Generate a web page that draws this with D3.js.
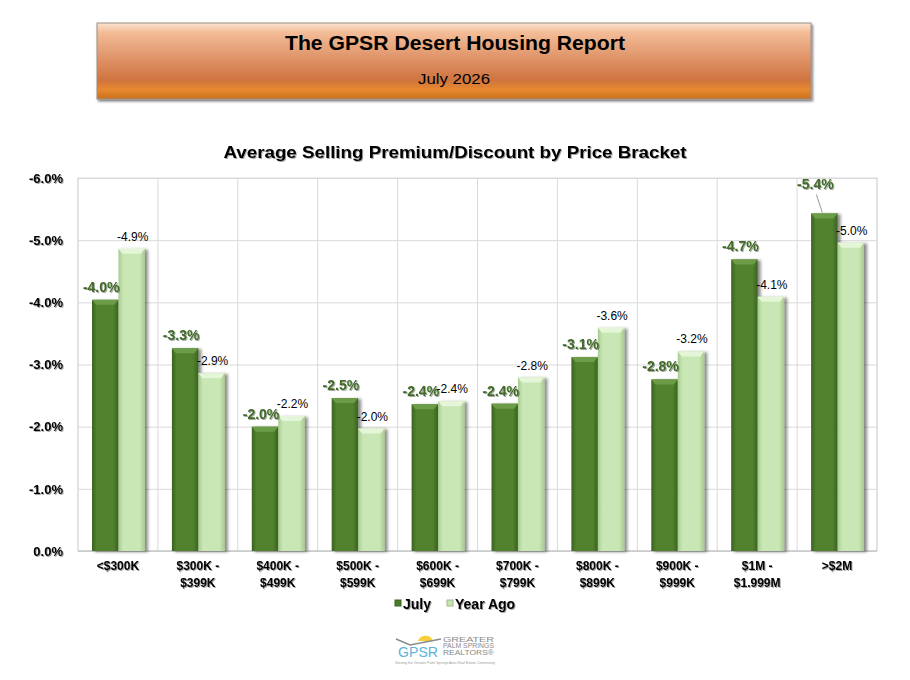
<!DOCTYPE html>
<html>
<head>
<meta charset="utf-8">
<script src="https://cdn.jsdelivr.net/npm/d3@7"></script>
<style>
  body { margin: 0; background: #fff; }
  text { font-family: Arial, "Liberation Sans", sans-serif; }
</style>
</head>
<body>
<div id="chart"></div>
<script>
// Average selling premium/discount by price bracket
const categories = [
  ["<$300K"], ["$300K -", "$399K"], ["$400K -", "$499K"], ["$500K -", "$599K"],
  ["$600K -", "$699K"], ["$700K -", "$799K"], ["$800K -", "$899K"],
  ["$900K -", "$999K"], ["$1M -", "$1.999M"], [">$2M"]
];
const julyValues    = [-4.04, -3.26, -2.00, -2.46, -2.36, -2.37, -3.12, -2.76, -4.69, -5.43];
const yearAgoValues = [-4.86, -2.86, -2.17, -1.97, -2.41, -2.79, -3.59, -3.21, -4.09, -4.96];
const seriesNames = ["July", "Year Ago"];
const yTicks = [0, -1, -2, -3, -4, -5, -6];

const width = 910, height = 680;
const plot = { left: 78, right: 877, top: 178, bottom: 551 };

const svg = d3.select("#chart").append("svg")
  .attr("width", width)
  .attr("height", height);

const defs = svg.append("defs");

// Header gradient
const hg = defs.append("linearGradient").attr("id", "hdr").attr("x1", 0).attr("y1", 0).attr("x2", 0).attr("y2", 1);
[[0, "#fbe3d0"], [0.12, "#f3bd98"], [0.45, "#e0956a"], [0.75, "#cf7440"], [0.88, "#e7892e"], [1, "#c8701f"]]
  .forEach(([o, c]) => hg.append("stop").attr("offset", o).attr("stop-color", c));

// Bar gradients (horizontal shading for the bevelled look)
function barGradient(id, edge, mid) {
  const g = defs.append("linearGradient").attr("id", id).attr("x1", 0).attr("y1", 0).attr("x2", 1).attr("y2", 0);
  [[0, edge], [0.18, mid], [0.8, mid], [1, edge]]
    .forEach(([o, c]) => g.append("stop").attr("offset", o).attr("stop-color", c));
}
barGradient("gJuly", "#3b6220", "#52822f");
barGradient("gYear", "#a7cb8e", "#c9e7b5");

const shadow = defs.append("filter").attr("id", "barShadow").attr("x", "-30%").attr("y", "-10%").attr("width", "170%").attr("height", "120%");
shadow.append("feDropShadow").attr("dx", 3).attr("dy", 1).attr("stdDeviation", 1.8).attr("flood-color", "#000").attr("flood-opacity", 0.45);

const txtShadow = defs.append("filter").attr("id", "txtShadow").attr("x", "-10%").attr("y", "-20%").attr("width", "130%").attr("height", "150%");
txtShadow.append("feDropShadow").attr("dx", 1).attr("dy", 1).attr("stdDeviation", 0.6).attr("flood-color", "#000").attr("flood-opacity", 0.35);

const boxShadow = defs.append("filter").attr("id", "boxShadow").attr("x", "-5%").attr("y", "-20%").attr("width", "110%").attr("height", "150%");
boxShadow.append("feDropShadow").attr("dx", 1.5).attr("dy", 2).attr("stdDeviation", 1.2).attr("flood-color", "#000").attr("flood-opacity", 0.5);

// Header box
svg.append("rect")
  .attr("x", 97).attr("y", 23).attr("width", 714).attr("height", 76)
  .attr("fill", "url(#hdr)")
  .attr("stroke", "#9b8f86").attr("stroke-width", 1)
  .attr("filter", "url(#boxShadow)");

svg.append("text")
  .attr("x", 455).attr("y", 50)
  .attr("text-anchor", "middle")
  .attr("font-size", 20).attr("font-weight", "bold")
  .attr("textLength", 340).attr("lengthAdjust", "spacingAndGlyphs")
  .text("The GPSR Desert Housing Report");

svg.append("text")
  .attr("x", 454).attr("y", 84)
  .attr("text-anchor", "middle")
  .attr("font-size", 14)
  .attr("textLength", 72).attr("lengthAdjust", "spacingAndGlyphs")
  .text("July 2026");

// Chart title
svg.append("text")
  .attr("x", 455).attr("y", 158)
  .attr("text-anchor", "middle")
  .attr("font-size", 17).attr("font-weight", "bold")
  .attr("textLength", 463).attr("lengthAdjust", "spacingAndGlyphs")
  .attr("filter", "url(#txtShadow)")
  .text("Average Selling Premium/Discount by Price Bracket");

// Scales
const x = d3.scaleBand()
  .domain(d3.range(categories.length))
  .range([plot.left, plot.right]);

const xInner = d3.scaleBand()
  .domain(seriesNames)
  .range([14, x.bandwidth() - 13]);

const y = d3.scaleLinear()
  .domain([0, -6])
  .range([plot.bottom, plot.top]);

// Plot background and grid
svg.append("rect")
  .attr("x", plot.left).attr("y", plot.top)
  .attr("width", plot.right - plot.left).attr("height", plot.bottom - plot.top)
  .attr("fill", "#fff").attr("stroke", "#d9d9d9");

svg.append("g")
  .attr("transform", `translate(${plot.left},0)`)
  .call(d3.axisLeft(y).tickValues(yTicks).tickSize(-(plot.right - plot.left)).tickFormat(""))
  .call(g => g.select(".domain").remove())
  .call(g => g.selectAll("line").attr("stroke", "#d9d9d9"));

svg.append("g")
  .selectAll("line")
  .data(d3.range(categories.length + 1))
  .join("line")
  .attr("x1", i => i < categories.length ? x(i) : plot.right)
  .attr("x2", i => i < categories.length ? x(i) : plot.right)
  .attr("y1", plot.top).attr("y2", plot.bottom)
  .attr("stroke", "#d9d9d9");

svg.append("line")
  .attr("x1", plot.left).attr("x2", plot.right)
  .attr("y1", plot.bottom).attr("y2", plot.bottom)
  .attr("stroke", "#bfbfbf");

// Y axis labels
svg.append("g")
  .attr("transform", `translate(${plot.left - 12},0)`)
  .call(d3.axisLeft(y).tickValues(yTicks).tickSize(0).tickFormat(d => d.toFixed(1) + "%"))
  .call(g => g.select(".domain").remove())
  .call(g => g.selectAll("text")
    .attr("font-family", "Arial, 'Liberation Sans', sans-serif")
    .attr("font-size", 13).attr("font-weight", "bold")
    .attr("fill", "#000")
    .attr("filter", "url(#txtShadow)"));

// X labels
const xl = svg.append("g").selectAll("text")
  .data(categories)
  .join("text")
  .attr("x", (d, i) => x(i) + x.bandwidth() / 2)
  .attr("y", 570)
  .attr("text-anchor", "middle")
  .attr("font-size", 12).attr("font-weight", "bold")
  .attr("filter", "url(#txtShadow)");
xl.selectAll("tspan")
  .data(d => d)
  .join("tspan")
  .attr("x", function () { return d3.select(this.parentNode).attr("x"); })
  .attr("dy", (d, i) => i === 0 ? 0 : 17)
  .text(d => d);

// Bars
const rows = categories.map((c, i) => ({ i, values: [julyValues[i], yearAgoValues[i]] }));
const fills = { "July": "url(#gJuly)", "Year Ago": "url(#gYear)" };
const bevel = { "July": "#6c9c47", "Year Ago": "#e4f5d8" };

const groups = svg.append("g").selectAll("g")
  .data(rows)
  .join("g")
  .attr("transform", d => `translate(${x(d.i)},0)`);

const bars = groups.selectAll("g")
  .data(d => d.values.map((v, k) => ({ i: d.i, name: seriesNames[k], v })))
  .join("g")
  .attr("filter", "url(#barShadow)");

bars.append("rect")
  .attr("x", d => xInner(d.name))
  .attr("y", d => y(d.v))
  .attr("width", xInner.bandwidth())
  .attr("height", d => y(0) - y(d.v))
  .attr("fill", d => fills[d.name]);

bars.append("path")
  .attr("d", d => {
    const x0 = xInner(d.name), w = xInner.bandwidth(), t = y(d.v);
    return `M${x0},${t}L${x0 + w},${t}L${x0 + w - 4},${t + 5}L${x0 + 4},${t + 5}Z`;
  })
  .attr("fill", d => bevel[d.name]);

// Data labels
groups.each(function (d) {
  const g = d3.select(this);
  // July labels
  const jx = xInner("July") + xInner.bandwidth() / 2;
  const jy = y(julyValues[d.i]);
  const lift = d.i === categories.length - 1 ? 24 : 8;
  g.append("text")
    .attr("x", jx - (d.i === categories.length - 1 ? 9 : 4))
    .attr("y", jy - lift)
    .attr("text-anchor", "middle")
    .attr("font-size", 14).attr("font-weight", "bold")
    .attr("fill", "#3f6b25")
    .attr("filter", "url(#txtShadow)")
    .text(julyValues[d.i].toFixed(1) + "%");
  if (d.i === categories.length - 1) {
    g.append("line")
      .attr("x1", jx - 8).attr("y1", jy - 19)
      .attr("x2", jx - 2).attr("y2", jy - 1)
      .attr("stroke", "#808080").attr("stroke-width", 0.8);
  }
  // Year ago labels
  g.append("text")
    .attr("x", xInner("Year Ago") + xInner.bandwidth() / 2 + 1)
    .attr("y", y(yearAgoValues[d.i]) - 8)
    .attr("text-anchor", "middle")
    .attr("font-size", 12)
    .attr("fill", "#000")
    .text(yearAgoValues[d.i].toFixed(1) + "%");
});

// Legend
const legend = svg.append("g").attr("transform", "translate(395,609)");
const legendItems = [
  { name: "July", color: "#4a7a2a", x: 0 },
  { name: "Year Ago", color: "#c6e4b0", x: 52 }
];
const li = legend.selectAll("g").data(legendItems).join("g")
  .attr("transform", d => `translate(${d.x},0)`);
li.append("rect").attr("x", 0).attr("y", -9).attr("width", 6).attr("height", 6)
  .attr("fill", d => d.color).attr("stroke", d => d3.color(d.color).darker(0.6));
li.append("text").attr("x", 8).attr("y", 0)
  .attr("font-size", 14).attr("font-weight", "bold")
  .attr("filter", "url(#txtShadow)")
  .text(d => d.name);

// GPSR logo (simplified)
const logo = svg.append("g");
logo.append("path")
  .attr("d", "M418,641 A8,8 0 0,1 433,641 Z")
  .attr("fill", "#f7cf3c");
logo.append("path")
  .attr("d", "M396,639 L410,645 L441,639")
  .attr("fill", "none").attr("stroke", "#8a8a8a").attr("stroke-width", 1.4);
logo.append("text")
  .attr("x", 398).attr("y", 657)
  .attr("font-size", 14).attr("fill", "#5fb3d9")
  .attr("textLength", 40).attr("lengthAdjust", "spacingAndGlyphs")
  .text("GPSR");
[["GREATER", 642], ["PALM SPRINGS", 648], ["REALTORS\u00ae", 655]].forEach(([t, yy]) => {
  logo.append("text")
    .attr("x", 443).attr("y", yy)
    .attr("font-size", 6.5).attr("fill", "#8a8a8a")
    .attr("textLength", 51).attr("lengthAdjust", "spacingAndGlyphs")
    .text(t);
});
logo.append("text")
  .attr("x", 395).attr("y", 664)
  .attr("font-size", 3.5).attr("fill", "#9a9a9a")
  .attr("textLength", 100).attr("lengthAdjust", "spacingAndGlyphs")
  .text("Serving the Greater Palm Springs Area Real Estate Community");
</script>
</body>
</html>
